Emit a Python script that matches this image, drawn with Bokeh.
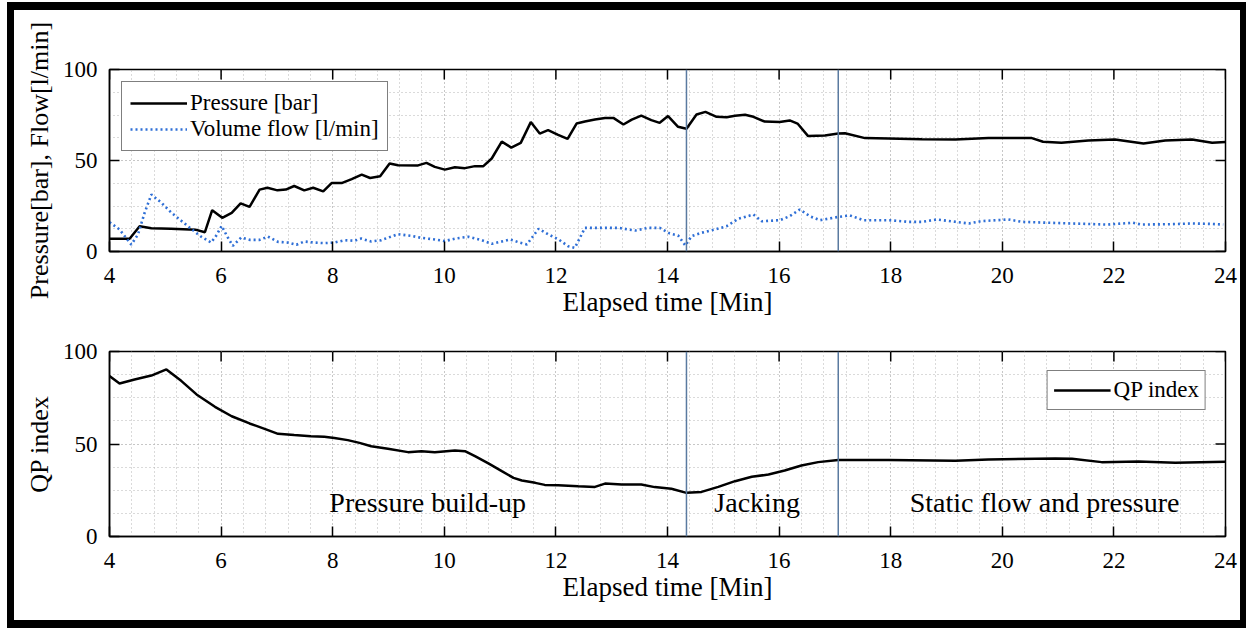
from bokeh.plotting import figure
from bokeh.models import (FixedTicker, Span, Legend, LegendItem,
                          Range1d, ColumnDataSource)
from bokeh.layouts import column
from bokeh.core.properties import value
from bokeh.embed import file_html
from bokeh.resources import INLINE

# ---------------- data ----------------
pressure_t = [4.0, 4.36, 4.54, 4.75, 5.1, 5.54, 5.71, 5.84, 6.02, 6.19, 6.35, 6.51, 6.69, 6.83,
              7.01, 7.16, 7.31, 7.49, 7.65, 7.83, 7.98, 8.16, 8.34, 8.52, 8.67, 8.85, 9.02, 9.17,
              9.53, 9.68, 9.83, 10.01, 10.19, 10.37, 10.55, 10.70, 10.85, 11.03, 11.20, 11.37,
              11.55, 11.71, 11.86, 12.04, 12.21, 12.37, 12.52, 12.70, 12.88, 13.03, 13.21, 13.36,
              13.53, 13.71, 13.86, 14.01, 14.19, 14.34, 14.52, 14.68, 14.88, 15.06, 15.21, 15.39,
              15.54, 15.74, 16.01, 16.19, 16.33, 16.52, 16.82, 17.06, 17.18, 17.54, 17.96, 18.56,
              19.16, 19.75, 20.53, 20.73, 21.06, 21.54, 22.02, 22.53, 22.92, 23.40, 23.76, 24.0]
pressure_v = [7.0, 7.0, 13.9, 12.8, 12.5, 12.0, 10.6, 22.7, 18.5, 21.2, 26.4, 24.5, 34.0, 35.0,
              33.6, 34.0, 36.0, 33.6, 35.0, 33.0, 37.6, 37.6, 39.8, 42.2, 40.4, 41.3, 48.4, 47.4,
              47.3, 48.7, 46.5, 45.0, 46.3, 45.8, 46.9, 46.9, 51.1, 60.4, 57.1, 59.7,
              71.1, 64.8, 66.7, 64.1, 61.9, 70.3, 71.4, 72.5, 73.4, 73.4, 69.8, 72.5,
              74.7, 72.2, 70.7, 74.4, 68.5, 67.4, 75.3, 76.7, 74.0, 73.8, 74.6, 75.1,
              74.0, 71.4, 71.2, 72.0, 70.3, 63.4, 63.7, 64.8, 65.0, 62.3, 62.1, 61.7,
              61.5, 62.3, 62.3, 60.3, 59.7, 61.0, 61.5, 59.3, 61.0, 61.5, 59.7, 60.1]

flow_t = [4.0, 4.18, 4.39, 4.51, 4.63, 4.75, 4.93, 5.11, 5.29, 5.47,
          5.64, 5.82, 5.91, 6.01, 6.11, 6.21, 6.36, 6.51, 6.69, 6.84,
          7.02, 7.20, 7.35, 7.49, 7.67, 7.85, 8.03, 8.21, 8.39, 8.51,
          8.69, 8.87, 9.02, 9.17, 9.41, 9.59, 9.83, 10.01, 10.19, 10.43,
          10.67, 10.85, 11.03, 11.18, 11.36, 11.48, 11.69, 11.87, 12.05, 12.22,
          12.34, 12.52, 12.82, 13.12, 13.42, 13.65, 13.86, 14.04, 14.19, 14.32,
          14.43, 14.61, 14.85, 15.06, 15.27, 15.54, 15.69, 16.01, 16.19, 16.37,
          16.55, 16.73, 17.06, 17.27, 17.51, 17.96, 18.32, 18.56, 18.83, 19.16,
          19.40, 19.63, 20.11, 20.35, 20.82, 21.24, 21.89, 22.34, 22.49, 23.03,
          23.39, 23.69, 23.96]
flow_v = [16.1, 12.1, 3.8, 9.3, 21.3, 31.3, 26.8, 21.3, 16.8, 12.3,
          8.2, 4.9, 8.6, 14.1, 8.2, 3.1, 7.7, 6.4, 6.4, 8.2,
          5.3, 4.9, 3.7, 5.5, 4.9, 4.6, 4.9, 6.2, 5.9, 7.1,
          5.5, 6.2, 7.9, 9.5, 8.6, 7.5, 6.6, 5.7, 7.1, 8.1,
          6.2, 4.2, 5.5, 6.6, 4.8, 3.9, 12.5, 9.3, 6.6, 2.9,
          2.0, 13.0, 13.0, 13.0, 11.5, 13.0, 13.0, 9.9, 8.8, 3.3,
          8.4, 10.3, 12.1, 13.9, 18.0, 20.3, 16.6, 17.2, 19.4, 23.1,
          19.4, 17.2, 19.0, 19.8, 17.2, 17.2, 16.3, 16.3, 17.6, 16.3,
          15.4, 16.7, 17.6, 16.3, 15.8, 15.4, 14.8, 15.8, 14.8, 15.0,
          15.4, 15.2, 14.8]

qp_t = [4.0, 4.18, 4.45, 4.75, 5.02, 5.29, 5.56, 5.89, 6.19, 6.51,
        6.78, 7.02, 7.31, 7.61, 7.85, 8.03, 8.27, 8.48, 8.69, 8.99,
        9.35, 9.59, 9.83, 10.19, 10.37, 10.55, 10.79, 11.03, 11.24, 11.39,
        11.63, 11.80, 12.04, 12.40, 12.70, 12.88, 13.18, 13.53, 13.77, 14.07,
        14.34, 14.61, 14.91, 15.21, 15.51, 15.81, 16.10, 16.40, 16.70, 17.06,
        17.96, 19.16, 19.75, 20.95, 21.25, 21.78, 22.44, 23.10, 24.0]
qp_v = [86.7, 82.7, 84.9, 87.0, 90.3, 84.0, 76.8, 70.1, 65.0, 61.1,
        58.2, 55.5, 54.8, 54.2, 53.9, 53.3, 52.1, 50.6, 48.8, 47.4,
        45.6, 46.1, 45.6, 46.5, 46.1, 43.4, 39.5, 35.3, 31.7, 30.3,
        29.0, 27.9, 27.7, 27.2, 26.8, 28.6, 28.1, 28.1, 26.7, 25.8,
        23.6, 24.1, 26.8, 29.9, 32.3, 33.5, 35.7, 38.4, 40.2, 41.3,
        41.3, 40.9, 41.6, 42.2, 42.0, 40.2, 40.5, 39.8, 40.4]

phase_boundaries = [14.34, 17.06]
phase_labels = ["Pressure build-up", "Jacking", "Static flow and pressure"]
phase_x = [7.94, 14.84, 18.34]
phase_y = [18.6, 18.6, 18.6]

x_ticks = [4, 6, 8, 10, 12, 14, 16, 18, 20, 22, 24]
y_ticks = [0, 50, 100]
x_min, x_max = 4, 24
y_min, y_max = 0, 100

FONT = "Liberation Serif"


def make_fig(height, top, bottom, ylabel):
    p = figure(width=1226, height=height, x_range=Range1d(x_min, x_max),
               y_range=Range1d(y_min, y_max),
               output_backend="svg", toolbar_location=None,
               min_border_left=95, min_border_right=15,
               min_border_top=top, min_border_bottom=bottom)
    p.background_fill_color = "white"
    p.border_fill_color = "white"
    p.outline_line_color = "black"
    p.outline_line_width = 1.5

    xt = FixedTicker(ticks=x_ticks, minor_ticks=[x_min + 0.4 * i for i in range(51)])
    yt = FixedTicker(ticks=y_ticks, minor_ticks=[12.5 * i for i in range(9)])
    p.xaxis.ticker = xt
    p.yaxis.ticker = yt

    for ax in p.axis:
        ax.major_tick_in = 10
        ax.major_tick_out = 0
        ax.minor_tick_in = 0
        ax.minor_tick_out = 0
        ax.major_tick_line_color = "black"
        ax.major_tick_line_width = 1.5
        ax.axis_line_color = "black"
        ax.axis_line_width = 1.5
        ax.major_label_text_font = FONT
        ax.major_label_text_font_size = "23px"
        ax.major_label_text_color = "black"
        ax.axis_label_text_font = FONT
        ax.axis_label_text_font_style = "normal"
        ax.axis_label_text_color = "black"

    p.xaxis.axis_label = "Elapsed time [Min]"
    p.xaxis.axis_label_text_font_size = "27px"
    p.xaxis.major_label_standoff = 16
    p.xaxis.axis_label_standoff = 1
    p.yaxis.axis_label = ylabel
    p.yaxis.axis_label_text_font_size = "26px"
    p.yaxis.major_label_standoff = 12
    p.yaxis.axis_label_standoff = 6

    # inward ticks on the top and right edges of the box
    p.ray(x=x_ticks, y=[y_max] * len(x_ticks), length=10, length_units="screen",
          angle=-90, angle_units="deg", line_color="black", line_width=1.5)
    p.ray(x=[x_max] * len(y_ticks), y=y_ticks, length=10, length_units="screen",
          angle=180, angle_units="deg", line_color="black", line_width=1.5)

    p.xgrid.ticker = xt
    p.ygrid.ticker = yt
    for g in (p.xgrid, p.ygrid):
        g.grid_line_color = "#b5b5b5"
        g.grid_line_dash = "1 3"
        g.grid_line_width = 1
        g.minor_grid_line_color = "#b5b5b5"
        g.minor_grid_line_dash = "1 3"
        g.minor_grid_line_width = 1

    for b in phase_boundaries:
        p.add_layout(Span(location=b, dimension="height", line_color="#5a7aa0",
                          line_width=1.5))
    return p


# ---------------- top plot ----------------
p1 = make_fig(316, 59, 75, "Pressure[bar], Flow[l/min]")
r_p = p1.line(pressure_t, pressure_v, line_color="black", line_width=2.5)
r_f = p1.line(flow_t, flow_v, line_color="#2f6fd6", line_width=2.6, line_dash="2 3")
leg1 = Legend(items=[LegendItem(label="Pressure [bar]", renderers=[r_p]),
                     LegendItem(label="Volume flow [l/min]", renderers=[r_f])],
              location="top_left")
p1.add_layout(leg1)

# ---------------- bottom plot ----------------
p2 = make_fig(294, 25, 84, "QP index")
r_q = p2.line(qp_t, qp_v, line_color="black", line_width=2.5)
leg2 = Legend(items=[LegendItem(label="QP index", renderers=[r_q])], location="top_right")
p2.add_layout(leg2)

src = ColumnDataSource(dict(x=phase_x, y=phase_y, text=phase_labels))
p2.text(x="x", y="y", text="text", source=src, text_font=value(FONT),
        text_font_size="28px", text_baseline="middle", text_align="left",
        text_color="black")

for lg, m, pad in ((leg1, 12, 8), (leg2, 19, 6)):
    lg.label_text_font = FONT
    lg.label_text_font_size = "23px"
    lg.label_text_color = "black"
    lg.glyph_width = 57
    lg.glyph_height = 20
    lg.label_standoff = 3
    lg.label_height = 24
    lg.padding = pad
    lg.spacing = 0
    lg.margin = m
    lg.border_line_color = "black"
    lg.border_line_width = 1.5
    lg.background_fill_alpha = 1.0

layout = column(p1, p2, spacing=0,
                styles={"border": "7px solid black", "border-top-width": "8px",
                        "border-bottom-width": "8px",
                        "margin-left": "7px", "margin-top": "2px"})

open("out.html", "w").write(file_html(layout, INLINE))
